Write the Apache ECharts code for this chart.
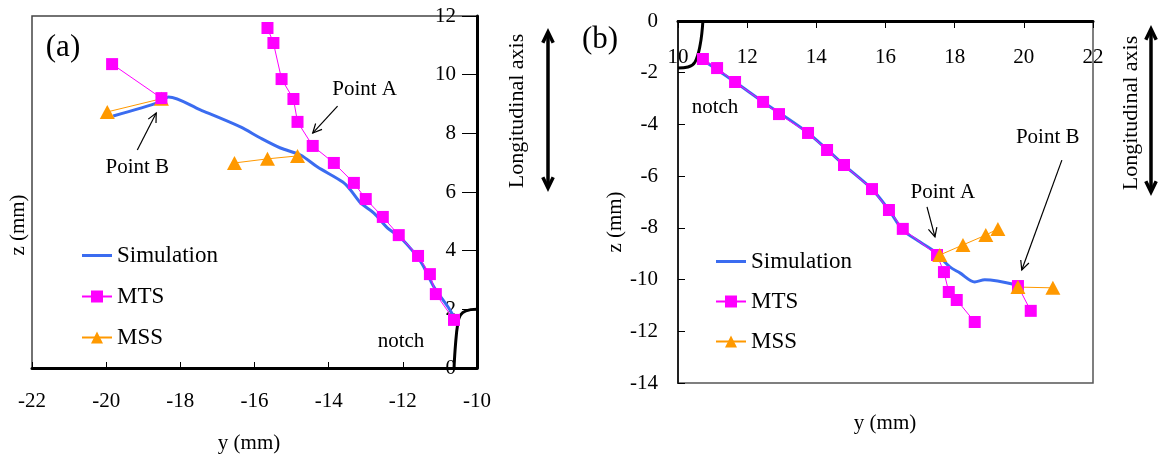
<!DOCTYPE html>
<html><head><meta charset="utf-8">
<script src="https://cdn.jsdelivr.net/npm/echarts@6/dist/echarts.min.js"></script>
<style>html,body{margin:0;padding:0;background:#fff}#c{width:1163px;height:457px}</style>
</head><body><div id="c"></div>
<script>
const FONT = '"Liberation Serif", "Times New Roman", serif';
const legendNames = ['Simulation', 'MTS', 'MSS'];

// ---------- Panel (a) ----------
const leftSim = [[-19.81,8.59],[-18.54,9.07],[-18.32,9.24],[-17.46,8.80],[-16.38,8.22],[-15.84,7.84],[-15.30,7.50],[-14.76,7.26],[-14.30,6.85],[-13.62,6.34],[-13.41,6.07],[-13.14,5.63],[-12.78,5.28],[-12.41,4.77],[-12.05,4.43],[-11.51,3.61],[-11.16,2.76],[-10.78,2.08],[-10.62,1.74]];
const leftMtsMain = [[-15.65,11.59],[-15.49,11.08],[-15.27,9.85],[-14.95,9.17],[-14.84,8.39],[-14.43,7.57],[-13.86,6.99],[-13.32,6.31],[-13.0,5.76],[-12.54,5.15],[-12.11,4.53],[-11.59,3.82],[-11.27,3.20],[-11.11,2.52],[-10.62,1.64]];
const leftMtsB = [[-19.84,10.36],[-18.51,9.20]];
const leftMssB = [[-19.97,8.73],[-18.51,9.18]];
const leftMssA = [[-16.54,6.99],[-15.65,7.13],[-14.84,7.23]];
const leftNotch = [[-10.62,0],[-10.58,0.8],[-10.52,1.5],[-10.45,1.8],[-10.3,1.95],[-10.0,2.0]];
const leftXTicks = {min:-22, max:-10, interval:2};
const leftZTicks = {min:0, max:12, interval:2};

// ---------- Panel (b) ----------
const rightSim = [[10.72,-1.51],[11.65,-2.36],[12.46,-3.13],[13.76,-4.33],[14.80,-5.57],[15.61,-6.50],[16.10,-7.31],[16.50,-8.08],[17.00,-8.55],[17.43,-8.93],[17.86,-9.51],[18.15,-9.74],[18.58,-10.09],[18.87,-10.01],[19.80,-10.21]];
const rightMtsMain = [[10.72,-1.47],[11.13,-1.82],[11.65,-2.36],[12.46,-3.13],[12.92,-3.60],[13.76,-4.33],[14.31,-4.99],[14.80,-5.57],[15.61,-6.50],[16.10,-7.31],[16.50,-8.04],[17.49,-9.05],[17.69,-9.71],[17.83,-10.48],[18.06,-10.79],[18.58,-11.64]];
const rightMtsB = [[19.83,-10.25],[20.20,-11.21]];
const rightMssA = [[17.57,-9.05],[18.24,-8.66],[18.90,-8.28],[19.25,-8.04]];
const rightMssB = [[19.83,-10.29],[20.84,-10.32]];
const rightNotch = [[10.72,0],[10.64,-0.93],[10.49,-1.59],[10.29,-1.78],[10.0,-1.82]];
const rightXTicks = {min:10, max:22, interval:2};
const rightZTicks = {min:-14, max:0, interval:2};

// annotations (data coords): [text, textPos, arrowStart, arrowTip]
const leftNotes = [['Point B',[-19.16,6.85],[-19.16,7.43],[-18.65,8.69]],['Point A',[-13.03,9.48],[-13.76,8.93],[-14.43,8.01]]];
const rightNotes = [['Point A',[17.66,-6.65],[17.20,-7.19],[17.43,-8.35]],['Point B',[20.69,-4.52],[21.10,-5.38],[19.94,-9.63]]];

const C_SIM = '#3B6CF0', C_MTS = '#FF00FF', C_MSS = '#FF9900';

function simS(data, g){return {type:'line', name:'Simulation', xAxisIndex:g, yAxisIndex:g, data, symbol:'none', showSymbol:false, smooth:0.3, lineStyle:{color:C_SIM, width:3}, itemStyle:{color:C_SIM}, silent:true};}
function mtsS(data, g){return {type:'line', name:'MTS', xAxisIndex:g, yAxisIndex:g, data, symbol:'rect', symbolSize:12, lineStyle:{color:C_MTS, width:1}, itemStyle:{color:C_MTS}, silent:true};}
function mssS(data, g){return {type:'line', name:'MSS', xAxisIndex:g, yAxisIndex:g, data, symbol:'triangle', symbolSize:[15,14], lineStyle:{color:C_MSS, width:1}, itemStyle:{color:C_MSS}, silent:true};}
function notchS(data, g){return {type:'line', name:'notch', xAxisIndex:g, yAxisIndex:g, data, symbol:'none', smooth:0.4, lineStyle:{color:'#000', width:3}, silent:true};}

const labelStyle = {color:'#000', fontFamily:FONT, fontSize:21};
const legendData = legendNames.map(n => n === 'Simulation' ? {name:n, icon:'path://M0,0H30V3H0Z'} : {name:n});

const chart = echarts.init(document.getElementById('c'), null, {renderer:'canvas'});
chart.setOption({
  animation:false,
  backgroundColor:'#fff',
  grid:[
    {left:32, top:16, width:445, height:352, show:true, borderColor:'#444', borderWidth:1.5, backgroundColor:'transparent'},
    {left:678, top:21, width:415, height:362, show:true, borderColor:'#555', borderWidth:1.5, backgroundColor:'transparent'}
  ],
  xAxis:[
    {type:'value', gridIndex:0, position:'bottom', min:leftXTicks.min, max:leftXTicks.max, interval:leftXTicks.interval,
     axisLine:{show:true, onZero:false, lineStyle:{color:'#000', width:3}}, axisTick:{show:true, inside:true, length:6, lineStyle:{color:'#000', width:1}},
     axisLabel:Object.assign({margin:23}, labelStyle), splitLine:{show:false}},
    {type:'value', gridIndex:1, position:'top', min:rightXTicks.min, max:rightXTicks.max, interval:rightXTicks.interval,
     axisLine:{show:true, onZero:false, lineStyle:{color:'#000', width:3}}, axisTick:{show:true, inside:true, length:7, lineStyle:{color:'#000', width:1}},
     axisLabel:Object.assign({margin:26, inside:true}, labelStyle), splitLine:{show:false}}
  ],
  yAxis:[
    {type:'value', gridIndex:0, position:'right', min:leftZTicks.min, max:leftZTicks.max, interval:leftZTicks.interval,
     axisLine:{show:true, onZero:false, lineStyle:{color:'#000', width:3}}, axisTick:{show:true, inside:true, length:15, lineStyle:{color:'#000', width:1}},
     axisLabel:Object.assign({margin:21, inside:true}, labelStyle), splitLine:{show:false}},
    {type:'value', gridIndex:1, position:'left', min:rightZTicks.min, max:rightZTicks.max, interval:rightZTicks.interval,
     axisLine:{show:true, onZero:false, lineStyle:{color:'#222', width:2}}, axisTick:{show:true, inside:true, length:7, lineStyle:{color:'#000', width:1}},
     axisLabel:Object.assign({margin:20}, labelStyle), splitLine:{show:false}}
  ],
  legend:[
    {data:legendData, orient:'vertical', left:81, top:244, padding:0, itemWidth:30, itemHeight:15, itemGap:18, selectedMode:false,
     textStyle:{fontFamily:FONT, fontSize:23, color:'#000'}},
    {data:legendData, orient:'vertical', left:715, top:250, padding:0, itemWidth:30, itemHeight:15, itemGap:17, selectedMode:false,
     textStyle:{fontFamily:FONT, fontSize:23, color:'#000'}}
  ],
  series:[
    notchS(leftNotch,0), simS(leftSim,0), mssS(leftMssB,0), mssS(leftMssA,0), mtsS(leftMtsB,0), mtsS(leftMtsMain,0),
    notchS(rightNotch,1), simS(rightSim,1), mtsS(rightMtsMain,1), mtsS(rightMtsB,1), mssS(rightMssA,1), mssS(rightMssB,1)
  ]
});

function arrowShapes(p0, p1, lw, head){
  const dx=p1[0]-p0[0], dy=p1[1]-p0[1], L=Math.hypot(dx,dy), ux=dx/L, uy=dy/L;
  const a=0.45, out=[];
  out.push({type:'polyline', silent:true, shape:{points:[p0,p1]}, style:{stroke:'#000', lineWidth:lw, fill:null}});
  const w1=[p1[0]-head*(ux*Math.cos(a)-uy*Math.sin(a)), p1[1]-head*(uy*Math.cos(a)+ux*Math.sin(a))];
  const w2=[p1[0]-head*(ux*Math.cos(a)+uy*Math.sin(a)), p1[1]-head*(uy*Math.cos(a)-ux*Math.sin(a))];
  out.push({type:'polyline', silent:true, shape:{points:[w1,p1,w2]}, style:{stroke:'#000', lineWidth:lw, fill:null}});
  return out;
}
function txt(t, x, y, size, rot){
  return {type:'text', silent:true, x, y, rotation:rot||0, style:{text:t, fill:'#000', font:size+'px '+FONT, align:'center', verticalAlign:'middle'}};
}
const g=[];
function notes(list, gi){
  list.forEach(n=>{
    const tp=chart.convertToPixel({gridIndex:gi}, n[1]);
    g.push(txt(n[0], tp[0], tp[1], 21));
    const a=chart.convertToPixel({gridIndex:gi}, n[2]);
    const b=chart.convertToPixel({gridIndex:gi}, n[3]);
    arrowShapes(a,b,1.2,10).forEach(s=>g.push(s));
  });
}
notes(leftNotes,0); notes(rightNotes,1);
const ln = chart.convertToPixel({gridIndex:0}, [-12.05,0.89]);
g.push(txt('notch', ln[0], ln[1], 21));
const rn = chart.convertToPixel({gridIndex:1}, [11.07,-3.36]);
g.push(txt('notch', rn[0], rn[1], 21));
g.push(txt('(a)', 63, 48, 31));
g.push(txt('(b)', 600, 40, 31));
g.push(txt('z (mm)', 18, 225, 21, Math.PI/2));
g.push(txt('z (mm)', 615, 222, 21, Math.PI/2));
g.push(txt('y (mm)', 249, 443, 21));
g.push(txt('y (mm)', 885, 423, 21));
g.push(txt('Longitudinal axis', 517, 111, 22, Math.PI/2));
g.push(txt('Longitudinal axis', 1131, 113, 22, Math.PI/2));
arrowShapes([548,110],[548,32],3.5,12).forEach(s=>g.push(s));
arrowShapes([548,110],[548,188],3.5,12).forEach(s=>g.push(s));
arrowShapes([1151,110],[1151,29],3.5,12).forEach(s=>g.push(s));
arrowShapes([1151,110],[1151,192],3.5,12).forEach(s=>g.push(s));
chart.setOption({graphic:g});
</script>
</body></html>
